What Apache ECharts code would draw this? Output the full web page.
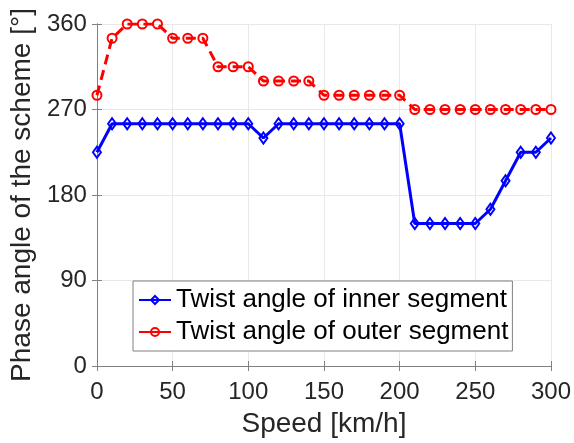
<!DOCTYPE html>
<html>
<head>
<meta charset="utf-8">
<script src="https://cdn.jsdelivr.net/npm/echarts@6/dist/echarts.min.js"></script>
<style>html,body{margin:0;padding:0;background:#fff}#c{width:574px;height:443px}</style>
</head>
<body>
<div id="c"></div>
<script>
// Speeds in km/h
const speeds = [0,10,20,30,40,50,60,70,80,90,100,110,120,130,140,150,160,170,180,190,200,210,220,230,240,250,260,270,280,290,300];
// Twist angles in degrees
const innerAngle = [225,255,255,255,255,255,255,255,255,255,255,240,255,255,255,255,255,255,255,255,255,150,150,150,150,150,165,195,225,225,240];
const outerAngle = [285,345,360,360,360,345,345,345,315,315,315,300,300,300,300,285,285,285,285,285,285,270,270,270,270,270,270,270,270,270,270];
const xTicks = [0,50,100,150,200,250,300];
const yTicks = [0,90,180,270,360];
const seriesNames = ['Twist angle of inner segment','Twist angle of outer segment'];

const font = 'Liberation Sans, Arial, sans-serif';
const frame = '#808080';
const pair = (xs, ys) => xs.map((x, i) => [x, ys[i]]);

// Mirror axes on top/right carry only the inward ticks of the box
const mirrorX = {
  type: 'value', min: 0, max: 300, interval: 50, position: 'top',
  axisLine: {show: true, lineStyle: {color: frame, width: 1}},
  axisTick: {show: true, inside: true, length: 5, lineStyle: {color: frame}},
  axisLabel: {show: false}, splitLine: {show: false}
};
const mirrorY = {
  type: 'value', min: 0, max: 360, interval: 90, position: 'right',
  axisLine: {show: true, lineStyle: {color: frame, width: 1}},
  axisTick: {show: true, inside: true, length: 5, lineStyle: {color: frame}},
  axisLabel: {show: false}, splitLine: {show: false}
};

const chart = echarts.init(document.getElementById('c'), null, {renderer: 'canvas'});
chart.setOption({
  animation: false,
  backgroundColor: '#fff',
  grid: {left: 93, right: 23, top: 24, bottom: 77},
  xAxis: [{
    type: 'value', min: 0, max: 300, interval: 50,
    name: 'Speed [km/h]', nameLocation: 'middle', nameGap: 44,
    nameTextStyle: {fontFamily: font, fontSize: 28, color: '#262626'},
    axisLine: {show: true, lineStyle: {color: frame, width: 1}},
    axisTick: {show: true, inside: true, length: 5, lineStyle: {color: frame}},
    axisLabel: {fontFamily: font, fontSize: 24, color: '#262626', margin: 14,
      formatter: v => xTicks.includes(v) ? String(v) : ''},
    splitLine: {show: true, lineStyle: {color: '#e8e8e8', width: 1}}
  }, mirrorX],
  yAxis: [{
    type: 'value', min: 0, max: 360, interval: 90,
    name: 'Phase angle of the scheme [°]', nameLocation: 'middle', nameGap: 52,
    nameTextStyle: {fontFamily: font, fontSize: 28, color: '#262626'},
    axisLine: {show: true, lineStyle: {color: frame, width: 1}},
    axisTick: {show: true, inside: true, length: 5, lineStyle: {color: frame}},
    axisLabel: {fontFamily: font, fontSize: 24, color: '#262626', margin: 10,
      formatter: v => yTicks.includes(v) ? String(v) : ''},
    splitLine: {show: true, lineStyle: {color: '#e8e8e8', width: 1}}
  }, mirrorY],
  legend: {
    orient: 'vertical', left: 133, top: 281,
    backgroundColor: '#fff', borderColor: frame, borderWidth: 1,
    padding: [6, 4, 6, 5], itemGap: 6, itemWidth: 32, itemHeight: 10,
    textStyle: {fontFamily: font, fontSize: 26, color: '#000'},
    lineStyle: {type: 'solid'},
    data: seriesNames
  },
  series: [
    {
      name: seriesNames[0], type: 'line', data: pair(speeds, innerAngle),
      symbol: 'diamond', symbolSize: [8, 11],
      lineStyle: {color: '#0000ff', width: 3},
      itemStyle: {color: 'rgba(255,255,255,0)', borderColor: '#0000ff', borderWidth: 2},
      z: 3
    },
    {
      name: seriesNames[1], type: 'line', data: pair(speeds, outerAngle),
      symbol: 'circle', symbolSize: 9,
      lineStyle: {color: '#ff0000', width: 3, type: [10, 6]},
      itemStyle: {color: 'rgba(255,255,255,0)', borderColor: '#ff0000', borderWidth: 2},
      z: 4
    }
  ]
});
</script>
</body>
</html>
